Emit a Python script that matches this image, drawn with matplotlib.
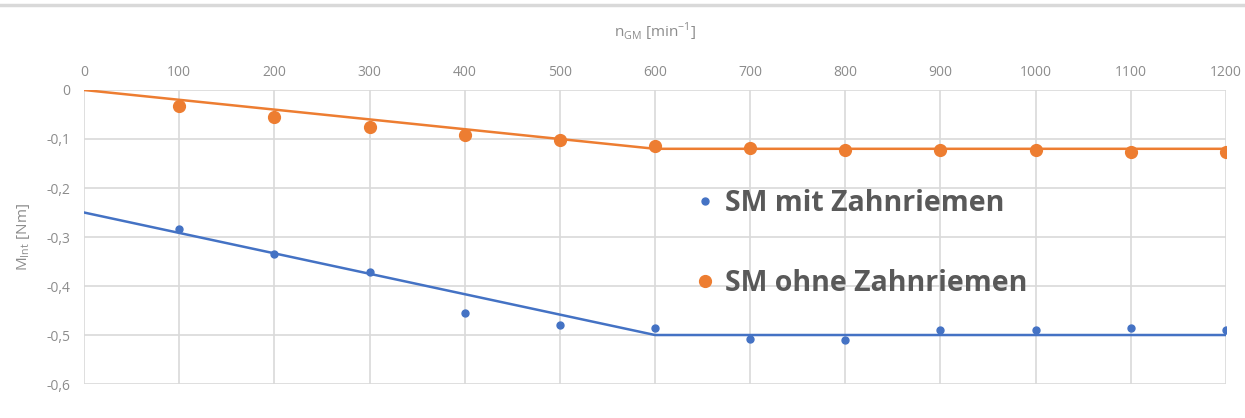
import numpy as np
import matplotlib
import matplotlib.pyplot as plt
from matplotlib.lines import Line2D
matplotlib.use('Agg')

plt.rcParams['font.family'] = ['Open Sans', 'DejaVu Sans']

# Messwerte: Drehzahl und inneres Moment
drehzahl = [100, 200, 300, 400, 500, 600, 700, 800, 900, 1000, 1100, 1200]
m_mit_riemen = [-0.284, -0.335, -0.371, -0.456, -0.48, -0.486,
                -0.508, -0.51, -0.49, -0.49, -0.486, -0.49]
m_ohne_riemen = [-0.033, -0.056, -0.076, -0.092, -0.102, -0.114,
                 -0.118, -0.122, -0.122, -0.122, -0.127, -0.127]

# Ausgleichsgeraden (abschnittsweise)
n_fit = [0, 600, 1200]
fit_mit_riemen = [-0.25, -0.5, -0.5]
fit_ohne_riemen = [0, -0.12, -0.12]

blau = '#4472c4'
orange = '#ed7d31'
grau = '#8c8c8c'

fig = plt.figure(figsize=(12.45, 4.18), dpi=100)
ax = fig.add_axes([0.0675, 0.0813, 0.9172, 0.7034])

ax.plot(n_fit, fit_mit_riemen, color=blau, lw=1.8, zorder=2)
ax.plot(n_fit, fit_ohne_riemen, color=orange, lw=1.8, zorder=2)
ax.plot(drehzahl, m_mit_riemen, 'o', color=blau, ms=5, zorder=3)
ax.plot(drehzahl, m_ohne_riemen, 'o', color=orange, ms=8.5, zorder=3)

yticks = np.round(np.arange(-0.6, 0.01, 0.1), 1)
ax.set_xlim(0, 1200)
ax.set_ylim(-0.6, 0)
ax.set_xticks(np.arange(0, 1201, 100))
ax.set_yticks(yticks)
ax.set_yticklabels(['0' if v == 0 else f'{v:.1f}'.replace('.', ',') for v in yticks])
ax.xaxis.tick_top()
ax.xaxis.set_label_position('top')
ax.tick_params(length=0, labelsize=10, colors=grau, pad=10)
ax.tick_params(axis='x', pad=7)
ax.grid(True, color='#d9d9d9', lw=1.2)
for s in ax.spines.values():
    s.set_visible(False)

ax.set_xlabel('n$_\\mathregular{GM}$ [min$^\\mathregular{-1}$]', fontsize=11, color=grau, labelpad=20)
ax.set_ylabel('M$_\\mathregular{Int}$ [Nm]', fontsize=11, color=grau, labelpad=10)

handles = [Line2D([], [], ls='', marker='o', color=blau, ms=5),
           Line2D([], [], ls='', marker='o', color=orange, ms=8.5)]
ax.legend(handles, ['SM mit Zahnriemen', 'SM ohne Zahnriemen'],
          loc='upper left', bbox_to_anchor=(0.509, 0.75), frameon=False,
          prop={'size': 20.5, 'weight': 'bold'}, labelcolor='#595959',
          labelspacing=1.8, handletextpad=0.2, handlelength=1.0)

# obere Trennlinie
fig.add_artist(Line2D([0, 1], [0.988, 0.988], color='#d9d9d9', lw=2.5))

fig.savefig('out.png', dpi=100)
